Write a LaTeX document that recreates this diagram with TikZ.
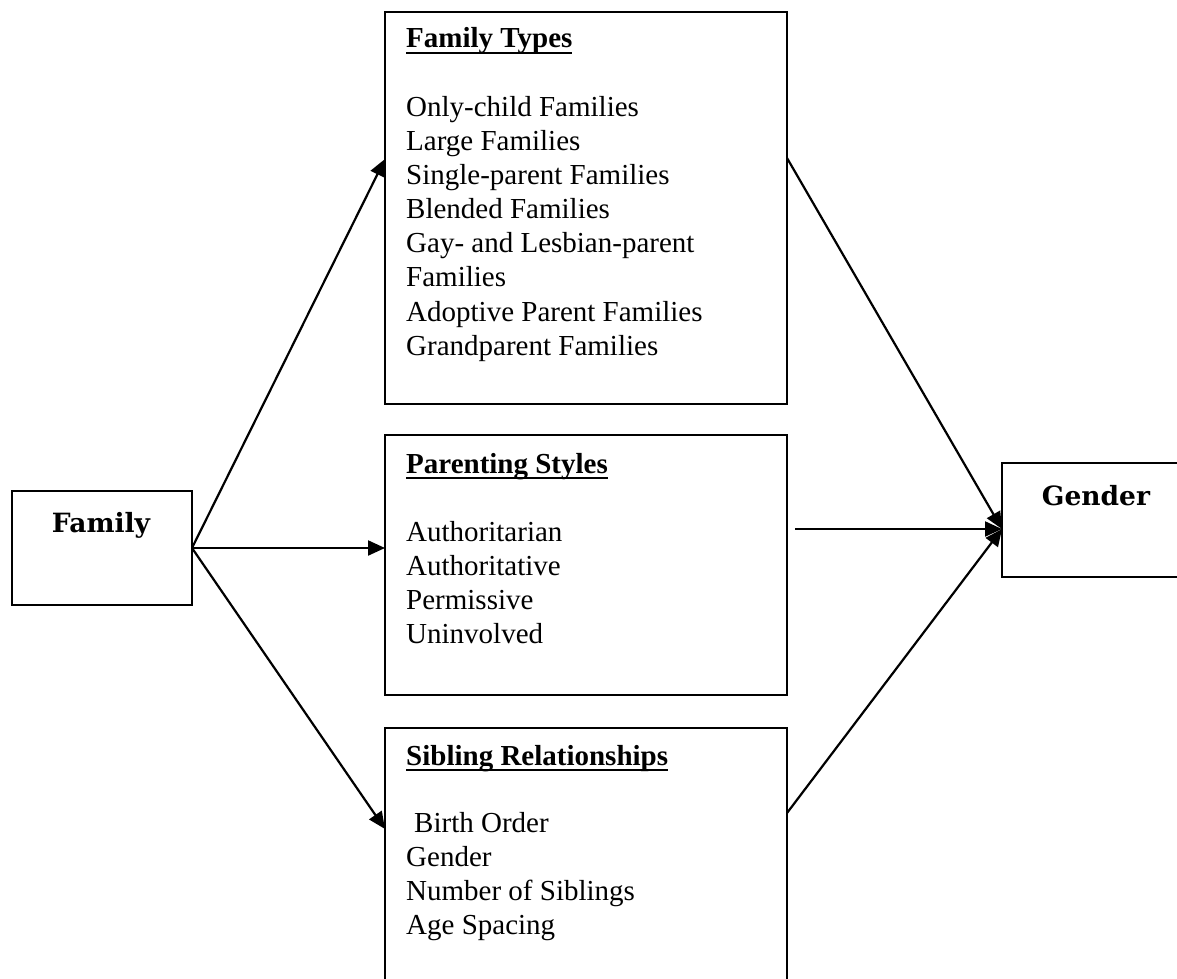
\documentclass[tikz,border=0pt]{standalone}
\usepackage{fontspec}
\setmainfont{Liberation Serif}
\newfontfamily\headfont{DejaVu Serif}
\usetikzlibrary{arrows.meta,calc}
\newcommand\myul[1]{\setbox0\hbox{#1}\rlap{\rule[-6pt]{\wd0}{2.2pt}}\box0}
\begin{document}
\begin{tikzpicture}[x=1pt,y=-1pt,
  box/.style={draw, line width=2.2pt, inner sep=0pt, outer sep=0pt, anchor=north west},
  txt/.style={anchor=base west, inner sep=0pt, font=\fontsize{29}{34}\selectfont},
  head/.style={anchor=base west, inner sep=0pt, font=\fontsize{29}{34}\selectfont\bfseries},
  big/.style={anchor=base, inner sep=0pt, font=\fontsize{26.5}{30}\selectfont\headfont\bfseries},
  arr/.style={-{Triangle[length=17pt,width=15pt]}, line width=2.2pt}]
\useasboundingbox (0,0) rectangle (1177,979);
\clip (0,0) rectangle (1177,979);
% boxes
\node[box, minimum width=180pt, minimum height=114pt] (fam) at (12,491) {};
\node[box, minimum width=402pt, minimum height=392pt] (types) at (385,12) {};
\node[box, minimum width=402pt, minimum height=260pt] (styles) at (385,435) {};
\node[box, minimum width=402pt, minimum height=300pt] (sib) at (385,728) {};
\node[box, minimum width=250pt, minimum height=114pt] (gen) at (1002,463) {};
% texts
\node[big] (famt) at (101,532) {Family};
\node[big] (gent) at (1096,505) {Gender};
\node[head] (typesh) at (406,48) {\myul{Family Types}};
\node[txt] (typesl) at (406,117) {\parbox[t]{370pt}{Only-child Families\\Large Families\\Single-parent Families\\Blended Families\\Gay- and Lesbian-parent\\Families\\Adoptive Parent Families\\Grandparent Families}};
\node[head] (stylesh) at (406,473) {\myul{Parenting Styles}};
\node[txt] (stylesl) at (406,541) {\parbox[t]{370pt}{Authoritarian\\Authoritative\\Permissive\\Uninvolved}};
\node[head] (sibh) at (406,765) {\myul{Sibling Relationships}};
\node[txt] (sibl) at (406,832) {\parbox[t]{370pt}{\hspace*{8pt}Birth Order\\Gender\\Number of Siblings\\Age Spacing}};
% connector end points
\coordinate (tIn) at (385,159);
\coordinate (bIn) at (385,829);
\coordinate (tOut) at (787,158);
\coordinate (sOut) at (795,529);
\coordinate (bOut) at (787,813);
\coordinate (gIn) at (1002,529);
% connectors
\draw[arr] (fam.east) -- (tIn);
\draw[arr] (fam.east) -- (fam.east -| styles.west);
\draw[arr] (fam.east) -- (bIn);
\draw[arr] (tOut) -- (gIn);
\draw[arr] (sOut) -- (gIn);
\draw[arr] (bOut) -- (gIn);
\end{tikzpicture}
\end{document}
